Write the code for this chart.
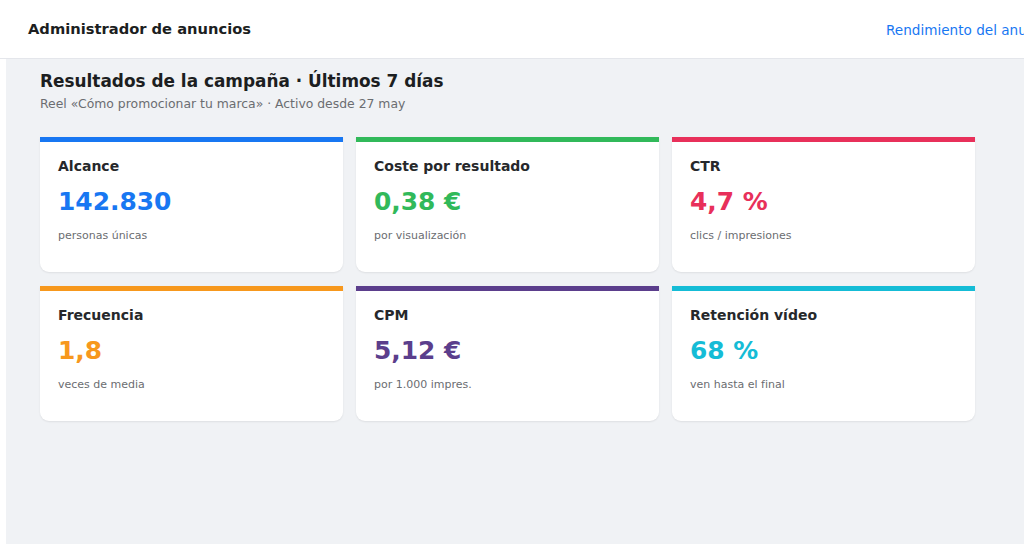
<!DOCTYPE html>
<html lang="es">
<head>
<meta charset="utf-8">
<script src="https://cdn.jsdelivr.net/npm/chart.js@4"></script>
<style>
  html, body { margin:0; padding:0; width:1024px; height:544px; overflow:hidden; background:#fff; font-family:"DejaVu Sans", sans-serif; }
  #hdr { position:absolute; left:0; top:0; width:1024px; height:58px; background:#fff; border-bottom:1px solid #e4e6eb; }
  #hdr .t { position:absolute; left:28px; top:20px; font-size:14.7px; font-weight:bold; color:#1c1e21; white-space:nowrap; }
  #hdr .l { position:absolute; left:886px; top:22px; font-size:13.6px; color:#1877f2; white-space:nowrap; }
  #main { position:absolute; left:6px; top:59px; width:1018px; height:485px; background:#f0f2f5; }
  #ttl { position:absolute; left:34px; top:12px; font-size:16.9px; font-weight:bold; color:#1c1e21; white-space:nowrap; }
  #sub { position:absolute; left:34px; top:37px; font-size:12.4px; color:#6b6d71; white-space:nowrap; }
  .card { position:absolute; width:303px; height:130px; background:#fff; border-radius:0 0 9px 9px; box-shadow:0 1px 2px rgba(0,0,0,0.08); border-top:5px solid #000; box-sizing:content-box; }
  .card .lab { position:absolute; left:18px; top:16px; font-size:14px; font-weight:bold; color:#26282b; white-space:nowrap; }
  .card .val { position:absolute; left:18px; top:45px; font-size:24.9px; font-weight:bold; white-space:nowrap; }
  .card .sm { position:absolute; left:18px; top:87px; font-size:11px; color:#6b6d71; white-space:nowrap; }
</style>
</head>
<body>
<div id="hdr"><div class="t">Administrador de anuncios</div><div class="l">Rendimiento del anuncio</div></div>
<div id="main">
  <div id="ttl">Resultados de la campaña · Últimos 7 días</div>
  <div id="sub">Reel «Cómo promocionar tu marca» · Activo desde 27 may</div>
  <div id="cards"></div>
</div>
<script>
const metricLabels = ["Alcance", "Coste por resultado", "CTR", "Frecuencia", "CPM", "Retención vídeo"];
const metricValues = ["142.830", "0,38 €", "4,7 %", "1,8", "5,12 €", "68 %"];
const metricNotes = ["personas únicas", "por visualización", "clics / impresiones", "veces de media", "por 1.000 impres.", "ven hasta el final"];
const metricColors = ["#1877f2", "#31b95a", "#e8305a", "#f7981d", "#5b3e8c", "#15bcd6"];

const wrap = document.getElementById('cards');
metricLabels.forEach((lab, i) => {
  const col = i % 3, row = Math.floor(i / 3);
  const c = document.createElement('div');
  c.className = 'card';
  c.style.left = (34 + col * 316) + 'px';
  c.style.top = (78 + row * 149) + 'px';
  c.style.borderTopColor = metricColors[i];
  c.innerHTML = '<div class="lab"></div><div class="val"></div><div class="sm"></div>';
  c.querySelector('.lab').textContent = lab;
  const v = c.querySelector('.val');
  v.textContent = metricValues[i];
  v.style.color = metricColors[i];
  c.querySelector('.sm').textContent = metricNotes[i];
  wrap.appendChild(c);
});
</script>
</body>
</html>
